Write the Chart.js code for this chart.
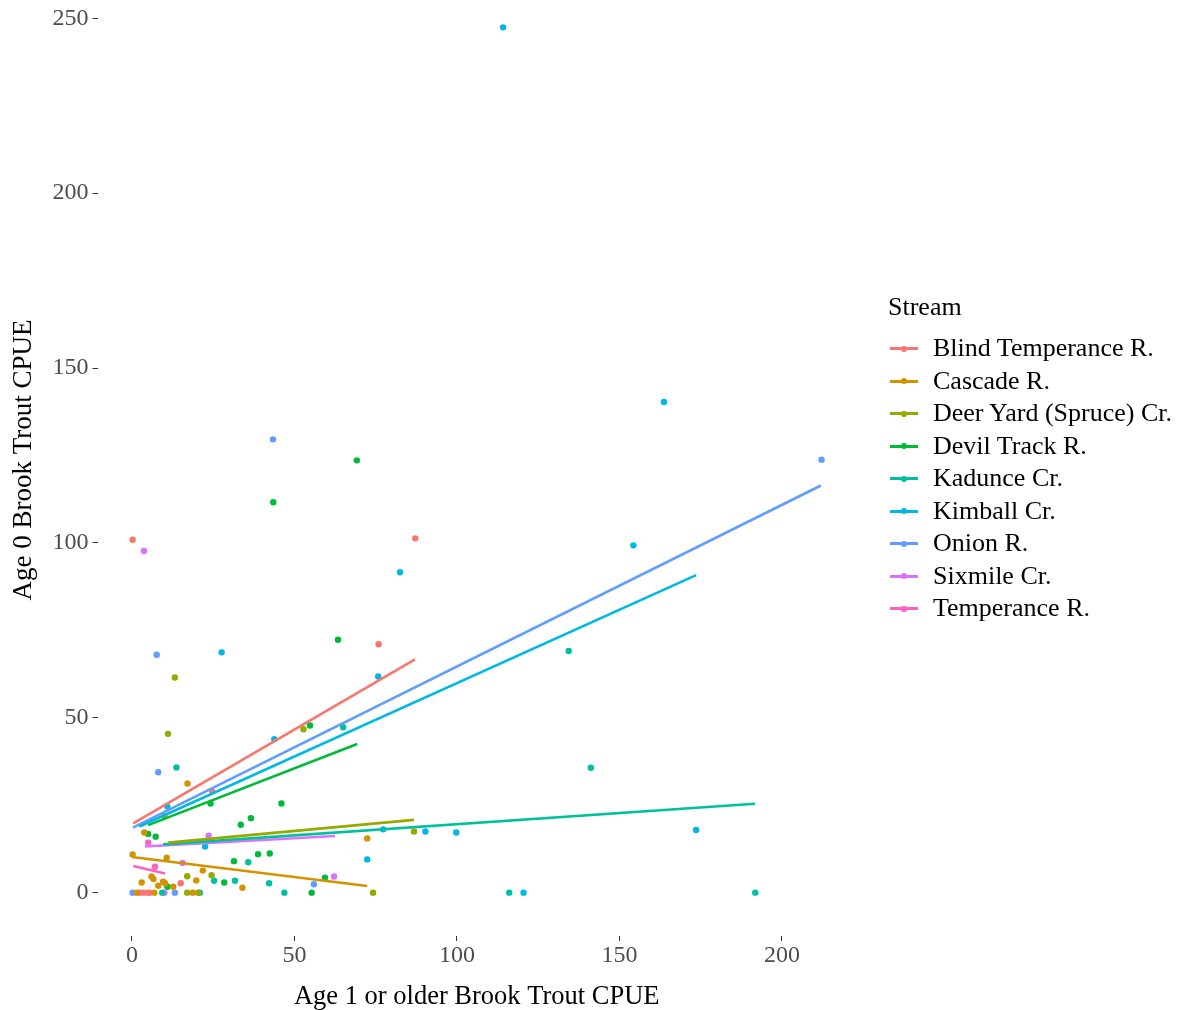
<!DOCTYPE html>
<html>
<head>
<meta charset="utf-8">
<script src="https://cdn.jsdelivr.net/npm/chart.js@4.4.1/dist/chart.umd.min.js"></script>
<style>
  body { margin: 0; background: #fff; }
  #wrap { position: relative; width: 1185px; height: 1010px; overflow: hidden; background: #fff; }
  #chart { position: absolute; left: 0; top: -20px; }
  #legend { position: absolute; left: 888px; top: 292px; font-family: 'Liberation Serif', serif; color: #000; }
  #legend .title { font-size: 26px; height: 40px; }
  #legend .row { position: relative; height: 32.5px; font-size: 26px; line-height: 32.5px; padding-left: 45px; white-space: nowrap; }
  #legend .key { position: absolute; left: 2px; top: 15px; width: 28px; height: 3px; }
  #legend .dot { position: absolute; left: 11px; top: -1.5px; width: 6px; height: 6px; border-radius: 3px; }
</style>
</head>
<body>
<div id="wrap">
  <canvas id="chart" width="1185" height="1032"></canvas>
  <div id="legend"></div>
</div>
<script>
// stream names and ggplot hue colours
const streams = ['Blind Temperance R.', 'Cascade R.', 'Deer Yard (Spruce) Cr.', 'Devil Track R.',
    'Kadunce Cr.', 'Kimball Cr.', 'Onion R.', 'Sixmile Cr.', 'Temperance R.'];
const colors = ['#F8766D', '#D39200', '#93AA00', '#00BA38', '#00C19F', '#00B9E3', '#619CFF', '#DB72FB', '#FF61C3'];

const blindX = [0.2, 87.2, 75.9, 15, 3.5, 4.8, 24.7];
const blindY = [100.9, 101.3, 71, 2.7, 0, 0, 29];
const cascadeX = [17.1, 72.4, 0.2, 10, 3.8, 10.7, 21.8, 19.8, 3, 6, 6.6, 9.6, 8.1, 10.2, 12.7, 34, 1.5, 6.9, 18.7];
const cascadeY = [31.2, 15.5, 10.9, 22, 17.2, 10, 6.3, 3.5, 2.9, 4.6, 3.9, 3.1, 2, 2.7, 1.7, 1.4, 0, 0, 0];
const deerX = [52.8, 13.2, 11.1, 86.8, 74.2, 17, 24.5, 17, 20.4];
const deerY = [46.7, 61.5, 45.4, 17.5, 0, 4.7, 5, 0, 0];
const devilX = [69.2, 43.5, 63.4, 54.8, 46, 24.2, 33.5, 36.6, 31.4, 38.8, 42.4, 10.9, 28.4, 55.3, 59.4, 5, 7.3];
const devilY = [123.6, 111.6, 72.3, 47.8, 25.5, 25.5, 19.4, 21.3, 9, 11, 11.2, 1.7, 2.9, 0, 4.3, 16.8, 16];
const kadunceX = [134.4, 141.2, 116.1, 191.8, 65, 13.7, 35.8, 25.3, 31.7, 42.2, 46.9, 9.3, 20.9];
const kadunceY = [69.1, 35.7, 0, 0, 47.3, 35.8, 8.7, 3.4, 3.4, 2.7, 0, 0, 0];
const kimballX = [114.2, 163.7, 154.3, 173.6, 90.3, 99.8, 120.5, 82.5, 75.8, 43.8, 27.6, 72.4, 77.3, 10.9, 22.5];
const kimballY = [247.4, 140.3, 99.3, 17.9, 17.5, 17.2, 0, 91.6, 61.8, 43.9, 68.7, 9.5, 18.1, 24.6, 13.2];
const onionX = [43.4, 212.2, 7.6, 8.1, 56, 0.2, 13.2];
const onionY = [129.6, 123.8, 68, 34.4, 2.4, 0, 0];
const sixmileX = [3.7, 23.6, 62.2, 15.6, 10];
const sixmileY = [97.7, 16.3, 4.6, 8.5, 0];
const temperanceX = [5, 7.1, 2.3, 5.5];
const temperanceY = [14.3, 7.4, 0, 0];

// fitted line ends per stream
const fitX0 = [0.4, 0, 11.2, 5, 9.6, 2.3, 0.3, 4, 0.4];
const fitY0 = [19.8, 10.2, 14.3, 19.3, 13.8, 18.9, 18.6, 13.2, 7.6];
const fitX1 = [87.1, 72.4, 86.8, 69.3, 191.7, 173.6, 212, 62.5, 10.2];
const fitY1 = [66.7, 1.9, 20.8, 42.5, 25.4, 90.8, 116.4, 16.2, 5.5];

const xTicks = [0, 50, 100, 150, 200];
const yTicks = [0, 50, 100, 150, 200, 250];

const pointsX = [blindX, cascadeX, deerX, devilX, kadunceX, kimballX, onionX, sixmileX, temperanceX];
const pointsY = [blindY, cascadeY, deerY, devilY, kadunceY, kimballY, onionY, sixmileY, temperanceY];

const datasets = [];
streams.forEach((name, i) => {
    datasets.push({
        label: name,
        data: pointsX[i].map((x, j) => ({ x: x, y: pointsY[i][j] })),
        backgroundColor: colors[i],
        borderWidth: 0,
        pointRadius: 3.2,
        order: 1
    });
});
streams.forEach((name, i) => {
    datasets.push({
        label: name + ' fit',
        data: [{ x: fitX0[i], y: fitY0[i] }, { x: fitX1[i], y: fitY1[i] }],
        showLine: true,
        borderColor: colors[i],
        borderWidth: 2.6,
        pointRadius: 0,
        order: 0
    });
});

const tickFont = { family: 'Liberation Serif', size: 24 };

new Chart(document.getElementById('chart'), {
    type: 'scatter',
    data: { datasets: datasets },
    options: {
        responsive: false,
        animation: false,
        layout: { padding: { left: 0, right: 329, top: 0, bottom: 0 } },
        plugins: { legend: { display: false }, tooltip: { enabled: false } },
        scales: {
            x: {
                type: 'linear',
                min: -10.6,
                max: 222.8,
                afterBuildTicks: axis => { axis.ticks = xTicks.map(v => ({ value: v })); },
                afterFit: axis => { axis.height = 76; axis.paddingLeft = 0; axis.paddingRight = 0; },
                border: { display: false },
                grid: { drawOnChartArea: false, drawTicks: true, tickLength: 5, color: '#333333', lineWidth: 1 },
                ticks: { font: tickFont, color: '#4D4D4D', padding: 0, maxRotation: 0 },
                title: { display: true, text: 'Age 1 or older Brook Trout CPUE', font: { family: 'Liberation Serif', size: 26.5 }, color: '#000', padding: { top: 0, bottom: -1 } }
            },
            y: {
                type: 'linear',
                min: -12.4,
                max: 259.8,
                afterBuildTicks: axis => { axis.ticks = yTicks.map(v => ({ value: v })); },
                afterFit: axis => { axis.width = 97.5; axis.paddingTop = 0; axis.paddingBottom = 0; },
                border: { display: false },
                grid: { drawOnChartArea: false, drawTicks: true, tickLength: 5, color: '#333333', lineWidth: 1 },
                ticks: { font: tickFont, color: '#4D4D4D', padding: 4 },
                title: { display: true, text: 'Age 0 Brook Trout CPUE', font: { family: 'Liberation Serif', size: 27 }, color: '#000', padding: { top: 8, bottom: 0 } }
            }
        }
    }
});

// legend, drawn beside the plot like the ggplot guide
const legend = document.getElementById('legend');
legend.innerHTML = '<div class="title">Stream</div>' + streams.map((s, i) =>
    '<div class="row"><span class="key" style="background:' + colors[i] + '"><span class="dot" style="background:' + colors[i] + '"></span></span>' + s + '</div>'
).join('');
</script>
</body>
</html>
